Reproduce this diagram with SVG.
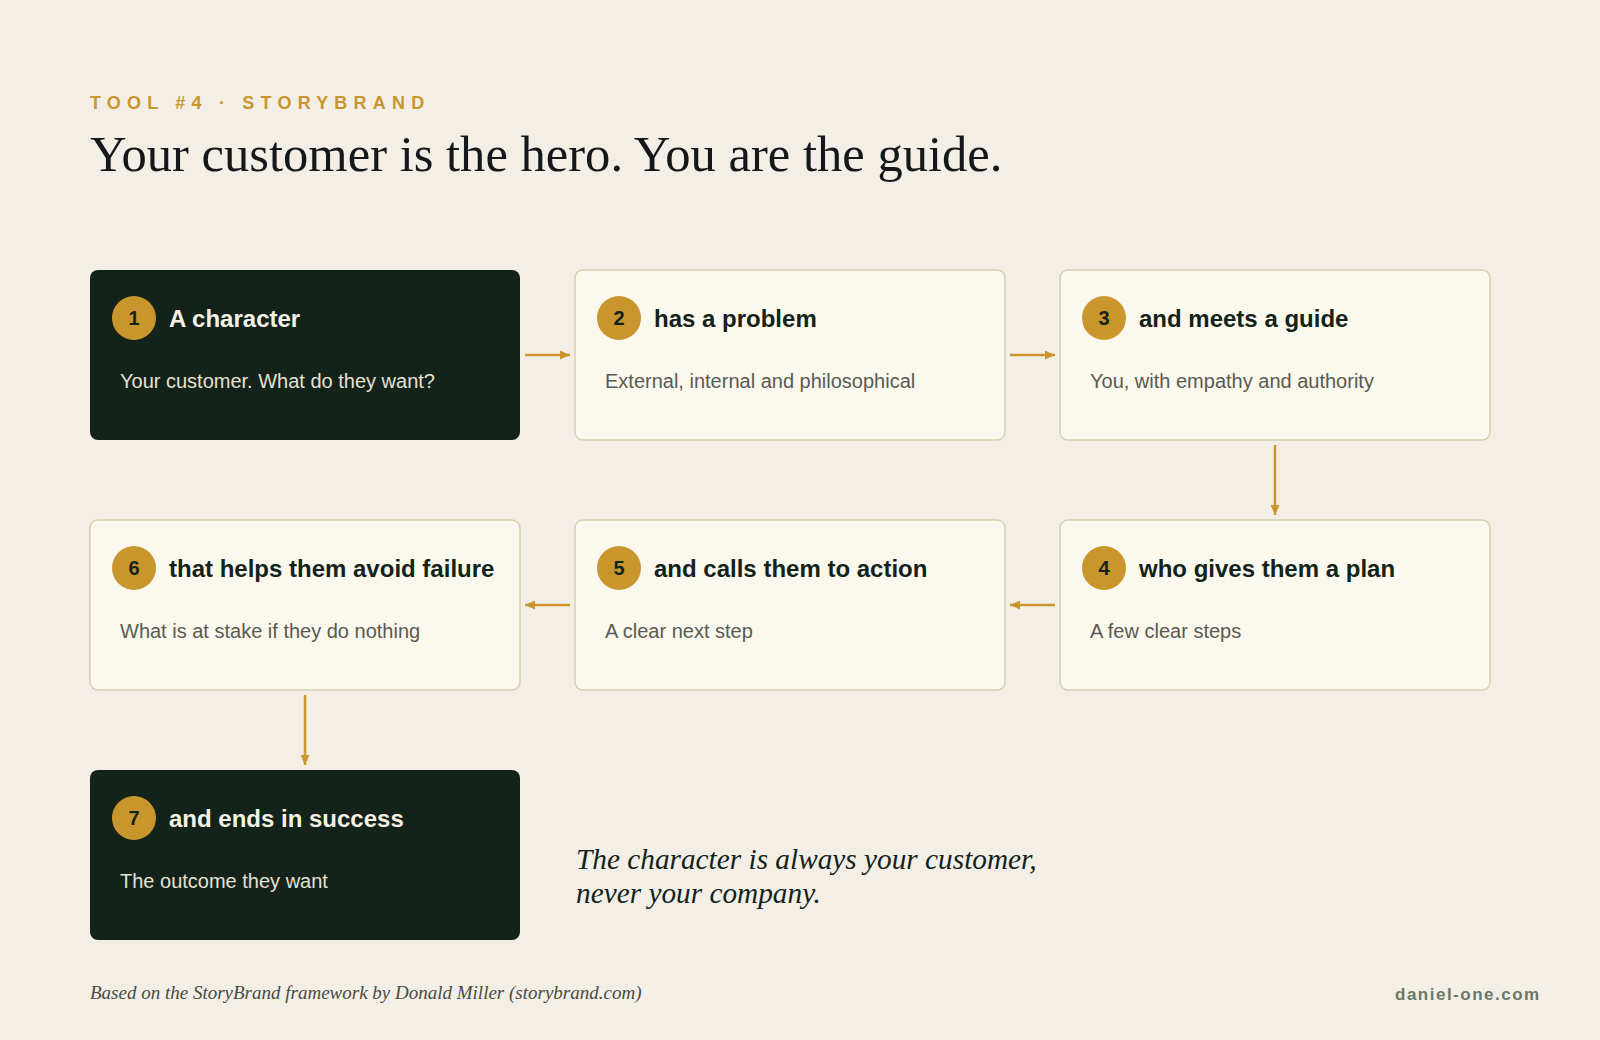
<svg xmlns="http://www.w3.org/2000/svg" width="1600" height="1040" viewBox="0 0 1600 1040">
  <defs>
    <marker id="arr" markerUnits="userSpaceOnUse" markerWidth="10" markerHeight="9" refX="10" refY="4.5" orient="auto">
      <path d="M0,0 L10,4.5 L0,9 z" fill="#c9962e"/>
    </marker>
    <style>
      .bg { fill: #f3efe7; }
      .dark { fill: #13231a; }
      .light { fill: #fbf8ed; stroke: #d8cfae; stroke-width: 1.5; }
      .badge { fill: #c9962e; }
      .num { font-family: "Liberation Sans", Arial, sans-serif; font-weight: 700; font-size: 20px; fill: #13231a; text-anchor: middle; }
      .ttl { font-family: "Liberation Sans", Arial, sans-serif; font-weight: 700; font-size: 24px; }
      .sub { font-family: "Liberation Sans", Arial, sans-serif; font-size: 20px; }
      .dark-t { fill: #f6f1e4; }
      .dark-s { fill: #e6e1d3; }
      .light-t { fill: #13231a; }
      .light-s { fill: #5a5a52; }
      .conn { stroke: #c9962e; stroke-width: 2.5; fill: none; marker-end: url(#arr); }
    </style>
  </defs>

  <rect class="bg" x="0" y="0" width="1600" height="1040"/>

  <g id="header">
    <text x="90" y="109" font-family="'Liberation Sans', Arial, sans-serif" font-weight="700" font-size="18" letter-spacing="6.2" fill="#c9962e">TOOL #4 · STORYBRAND</text>
    <text x="90" y="171" font-family="'Liberation Serif', 'Times New Roman', serif" font-size="50.6" fill="#15171a">Your customer is the hero. You are the guide.</text>
  </g>

  <g id="connectors">
    <path class="conn" d="M525 355 H570"/>
    <path class="conn" d="M1010 355 H1055"/>
    <path class="conn" d="M1275 445 V515"/>
    <path class="conn" d="M1055 605 H1010"/>
    <path class="conn" d="M570 605 H525"/>
    <path class="conn" d="M305 695 V765"/>
  </g>

  <g id="node1">
    <rect class="dark" x="90" y="270" width="430" height="170" rx="8"/>
    <circle class="badge" cx="134" cy="318" r="22"/>
    <text class="num" x="134" y="325">1</text>
    <text class="ttl dark-t" x="169" y="327">A character</text>
    <text class="sub dark-s" x="120" y="388">Your customer. What do they want?</text>
  </g>

  <g id="node2">
    <rect class="light" x="575" y="270" width="430" height="170" rx="8"/>
    <circle class="badge" cx="619" cy="318" r="22"/>
    <text class="num" x="619" y="325">2</text>
    <text class="ttl light-t" x="654" y="327">has a problem</text>
    <text class="sub light-s" x="605" y="388">External, internal and philosophical</text>
  </g>

  <g id="node3">
    <rect class="light" x="1060" y="270" width="430" height="170" rx="8"/>
    <circle class="badge" cx="1104" cy="318" r="22"/>
    <text class="num" x="1104" y="325">3</text>
    <text class="ttl light-t" x="1139" y="327">and meets a guide</text>
    <text class="sub light-s" x="1090" y="388">You, with empathy and authority</text>
  </g>

  <g id="node4">
    <rect class="light" x="1060" y="520" width="430" height="170" rx="8"/>
    <circle class="badge" cx="1104" cy="568" r="22"/>
    <text class="num" x="1104" y="575">4</text>
    <text class="ttl light-t" x="1139" y="577">who gives them a plan</text>
    <text class="sub light-s" x="1090" y="638">A few clear steps</text>
  </g>

  <g id="node5">
    <rect class="light" x="575" y="520" width="430" height="170" rx="8"/>
    <circle class="badge" cx="619" cy="568" r="22"/>
    <text class="num" x="619" y="575">5</text>
    <text class="ttl light-t" x="654" y="577">and calls them to action</text>
    <text class="sub light-s" x="605" y="638">A clear next step</text>
  </g>

  <g id="node6">
    <rect class="light" x="90" y="520" width="430" height="170" rx="8"/>
    <circle class="badge" cx="134" cy="568" r="22"/>
    <text class="num" x="134" y="575">6</text>
    <text class="ttl light-t" x="169" y="577">that helps them avoid failure</text>
    <text class="sub light-s" x="120" y="638">What is at stake if they do nothing</text>
  </g>

  <g id="node7">
    <rect class="dark" x="90" y="770" width="430" height="170" rx="8"/>
    <circle class="badge" cx="134" cy="818" r="22"/>
    <text class="num" x="134" y="825">7</text>
    <text class="ttl dark-t" x="169" y="827">and ends in success</text>
    <text class="sub dark-s" x="120" y="888">The outcome they want</text>
  </g>

  <g id="quote" font-family="'Liberation Serif', 'Times New Roman', serif" font-style="italic" font-size="29.3" fill="#13231a">
    <text x="576" y="869">The character is always your customer,</text>
    <text x="576" y="903">never your company.</text>
  </g>

  <g id="footer">
    <text x="90" y="999" font-family="'Liberation Serif', 'Times New Roman', serif" font-style="italic" font-size="19" fill="#4a4a42">Based on the StoryBrand framework by Donald Miller (storybrand.com)</text>
    <text x="1395" y="1000" font-family="'Liberation Sans', Arial, sans-serif" font-weight="700" font-size="17" letter-spacing="1.5" fill="#6b7866">daniel-one.com</text>
  </g>
</svg>
